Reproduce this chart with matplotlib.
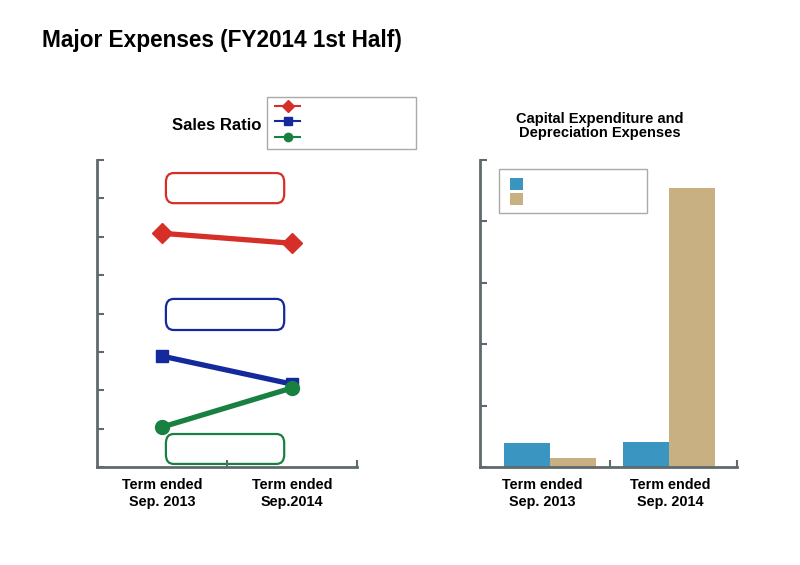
import matplotlib.pyplot as plt
from matplotlib.patches import FancyBboxPatch, Rectangle
from matplotlib.lines import Line2D
import numpy as np

plt.rcParams['font.family'] = ['Liberation Sans', 'DejaVu Sans']

# Data
terms_left = ['Term ended\nSep. 2013', 'Term ended\nSep.2014']
terms_right = ['Term ended\nSep. 2013', 'Term ended\nSep. 2014']
red_ratio = [6.09, 5.83]
blue_ratio = [2.89, 2.16]
green_ratio = [1.04, 2.06]
capex = [0.39, 0.41]
depreciation = [0.15, 4.54]

red = '#d52f27'
blue = '#14299b'
green = '#188141'
bar_blue = '#3a96c1'
bar_tan = '#c8b083'
spine_col = '#5f6a6e'

fig = plt.figure(figsize=(8, 5.65), dpi=100)
fig.text(42 / 800, 1 - 40 / 565, 'Major Expenses (FY2014 1st Half)', fontsize=16.3,
         fontweight='bold', va='center', ha='left')


def style_axis(ax):
    for s in ['top', 'right']:
        ax.spines[s].set_visible(False)
    for s in ['left', 'bottom']:
        ax.spines[s].set_color(spine_col)
        ax.spines[s].set_linewidth(2)
    ax.tick_params(axis='x', which='major', direction='in', length=5, width=1.5, color=spine_col)
    ax.tick_params(axis='y', direction='in', length=5, width=1.5, color=spine_col, labelleft=False)
    ax.tick_params(axis='x', which='minor', length=0, pad=8)


# Left: sales ratio
ax1 = fig.add_axes([97 / 800, 1 - 467 / 565, 260 / 800, 307 / 565])
style_axis(ax1)
ax1.set_xlim(-0.5, 1.5)
ax1.set_xticks([0.5, 1.5])
ax1.set_xticklabels([])
ax1.set_ylim(0, 8)
ax1.set_yticks(np.arange(0, 9))
x = np.arange(len(terms_left))
ax1.set_xticks(x, minor=True)
ax1.set_xticklabels(terms_left, minor=True, fontsize=10.4, fontweight='bold', linespacing=1.3)

for vals, c, m, ms in [(red_ratio, red, 'D', 10), (blue_ratio, blue, 's', 9), (green_ratio, green, 'o', 10)]:
    ax1.plot(x, vals, color=c, lw=3.8, marker=m, ms=ms, clip_on=False, zorder=3)

# empty rounded label boxes
for (y0, y1), c in [((6.875, 7.66), red), ((3.57, 4.38), blue), ((0.08, 0.86), green)]:
    ax1.add_patch(FancyBboxPatch((0.03, y0), 0.91, y1 - y0,
                                 boxstyle='round,pad=0,rounding_size=0.06',
                                 fc='none', ec=c, lw=1.6, mutation_aspect=4))

fig.text(217 / 800, 1 - 126 / 565, 'Sales Ratio', fontsize=12, fontweight='bold',
         ha='center', va='center')
fig.patches.append(Rectangle((267 / 800, 1 - 149 / 565), 149 / 800, 52 / 565,
                             transform=fig.transFigure, fc='white', ec='#aaaaaa', lw=1))
for yy, c, m, ms in [(106, red, 'D', 6), (121, blue, 's', 6), (137, green, 'o', 6)]:
    fig.lines.append(Line2D([275 / 800, 287.5 / 800, 300 / 800], [1 - yy / 565] * 3,
                            color=c, lw=1.5, marker=m, ms=ms, markevery=[1],
                            transform=fig.transFigure))

# Right: capex and depreciation
ax2 = fig.add_axes([480 / 800, 1 - 467 / 565, 257 / 800, 307 / 565])
style_axis(ax2)
ax2.set_xlim(-0.59, 1.57)
ax2.set_xticks([0.5, 1.57])
ax2.set_xticklabels([])
ax2.set_ylim(0, 5)
ax2.set_yticks(np.arange(0, 6))
xr = np.arange(len(terms_right))
w = 0.387
ax2.bar(xr - w / 2, capex, width=w, color=bar_blue)
ax2.bar(xr + w / 2, depreciation, width=w, color=bar_tan)
ax2.set_xticks([-0.07, 1.01], minor=True)
ax2.set_xticklabels(terms_right, minor=True, fontsize=10.4, fontweight='bold', linespacing=1.3)

fig.text(600 / 800, 1 - 126 / 565, 'Capital Expenditure and\nDepreciation Expenses',
         fontsize=10.5, fontweight='bold', ha='center', va='center', linespacing=1.05)
fig.patches.append(Rectangle((499 / 800, 1 - 213 / 565), 148 / 800, 44 / 565,
                             transform=fig.transFigure, fc='white', ec='#aaaaaa', lw=1))
for yy, c in [(184, bar_blue), (199, bar_tan)]:
    fig.patches.append(Rectangle((510 / 800, 1 - (yy + 6) / 565), 13 / 800, 12 / 565,
                                 transform=fig.transFigure, fc=c, ec='none'))

fig.savefig('out.png', dpi=100)
